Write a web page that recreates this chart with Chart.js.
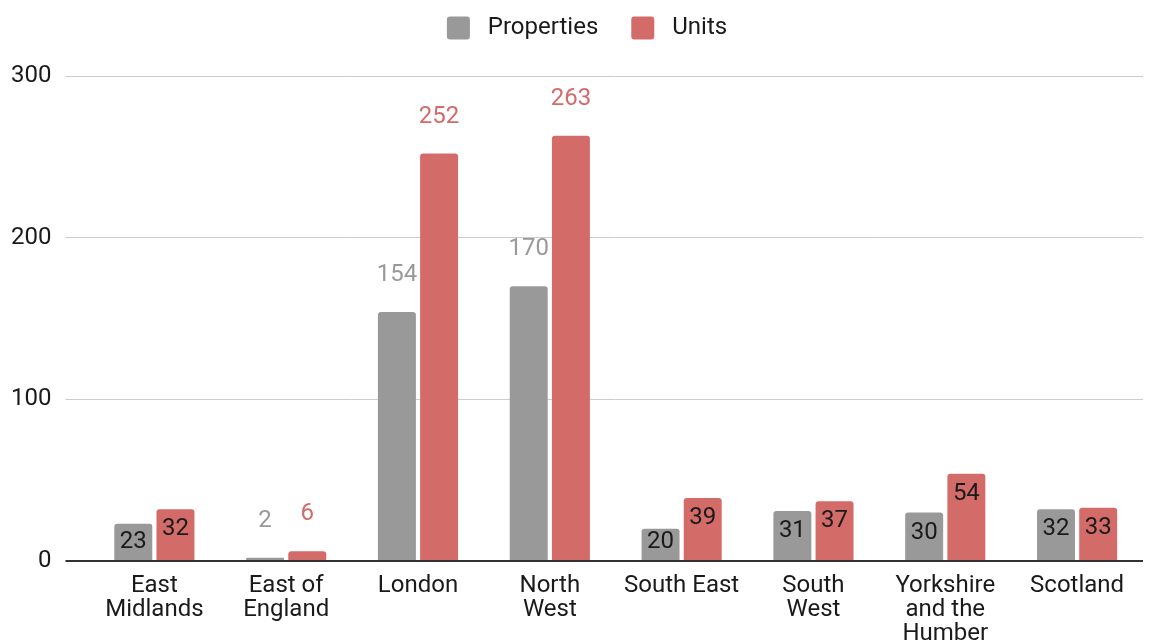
<!DOCTYPE html>
<html>
<head>
<meta charset="utf-8">
<script src="https://cdn.jsdelivr.net/npm/chart.js@4/dist/chart.umd.min.js"></script>
<style>
  html, body { margin: 0; padding: 0; background: #fff; }
  #wrap { width: 1157px; height: 643px; }
</style>
</head>
<body>
<div id="wrap"><canvas id="regionChart" width="1157" height="643"></canvas></div>
<script>
// Regions (multi-line labels as arrays)
const regions = [
  ['East', 'Midlands'],
  ['East of', 'England'],
  'London',
  ['North', 'West'],
  'South East',
  ['South', 'West'],
  ['Yorkshire', 'and the', 'Humber'],
  'Scotland'
];
const properties = [23, 2, 154, 170, 20, 31, 30, 32];
const units = [32, 6, 252, 263, 39, 37, 54, 33];
const yTicks = [0, 100, 200, 300];

const greyColor = '#999999';
const redColor = '#d36b69';
const fontFamily = 'Roboto, "Liberation Sans", sans-serif';

// Value labels: small/large bars get the label above in series colour,
// the rest are written inside the top of the bar in black
const valueLabels = {
  id: 'valueLabels',
  afterDatasetsDraw(chart) {
    const ctx = chart.ctx;
    const base = chart.scales.y.getPixelForValue(0);
    ctx.save();
    ctx.font = '24px ' + fontFamily;
    ctx.textAlign = 'center';
    ctx.textBaseline = 'middle';
    chart.data.datasets.forEach((ds, i) => {
      const meta = chart.getDatasetMeta(i);
      meta.data.forEach((bar, j) => {
        const v = ds.data[j];
        if (v < 10 || v > 100) {
          ctx.fillStyle = ds.backgroundColor;
          ctx.fillText(String(v), bar.x, bar.y - 37);
        } else {
          ctx.fillStyle = '#1a1a1a';
          ctx.fillText(String(v), bar.x, Math.min(bar.y + 20, base - 19));
        }
      });
    });
    ctx.restore();
  }
};

// extra room between the legend and the plot, and nudge the legend right
const legendGap = {
  id: 'legendGap',
  beforeInit(chart) {
    const fit = chart.legend.fit;
    chart.legend.fit = function () {
      fit.bind(chart.legend)();
      this.height += 26;
    };
  },
  afterLayout(chart) {
    chart.legend.left += 17;
    chart.legend.right += 17;
  }
};

var ctx = document.getElementById('regionChart').getContext('2d');

var chart = new Chart(ctx, {
  type: 'bar',
  data: {
    labels: regions,
    datasets: [{
      label: 'Properties',
      data: properties,
      backgroundColor: greyColor,
      borderRadius: 3,
      categoryPercentage: 0.64,
      barPercentage: 0.9
    }, {
      label: 'Units',
      data: units,
      backgroundColor: redColor,
      borderRadius: 3,
      categoryPercentage: 0.64,
      barPercentage: 0.9
    }]
  },
  options: {
    responsive: false,
    animation: false,
    devicePixelRatio: 1,
    layout: { padding: { left: -3, right: 14, top: -17, bottom: -8 } },
    plugins: {
      legend: {
        position: 'top',
        labels: {
          font: { size: 24, family: fontFamily },
          color: '#1a1a1a',
          boxWidth: 23,
          boxHeight: 23,
          padding: 33,
          useBorderRadius: true,
          borderRadius: 3,
          generateLabels: c => Chart.defaults.plugins.legend.labels.generateLabels(c)
            .map(item => Object.assign(item, { text: ' ' + item.text }))
        }
      },
      tooltip: { enabled: false }
    },
    scales: {
      x: {
        grid: { display: false },
        border: { display: false },
        ticks: {
          color: '#1a1a1a',
          font: { size: 24, family: fontFamily, lineHeight: 1.0 },
          maxRotation: 0,
          autoSkip: false,
          padding: 5
        }
      },
      y: {
        min: 0,
        max: 300,
        afterBuildTicks: axis => { axis.ticks = yTicks.map(v => ({ value: v })); },
        border: { display: false },
        grid: {
          color: c => (c.tick && c.tick.value === 0 ? '#333333' : '#cccccc'),
          lineWidth: c => (c.tick && c.tick.value === 0 ? 2 : 1),
          tickLength: 23,
          tickColor: c => (c.tick && c.tick.value === 0 ? '#333333' : '#cccccc')
        },
        ticks: {
          color: '#1a1a1a',
          font: { size: 24, family: fontFamily },
          padding: 14
        }
      }
    }
  },
  plugins: [valueLabels, legendGap]
});
</script>
</body>
</html>
